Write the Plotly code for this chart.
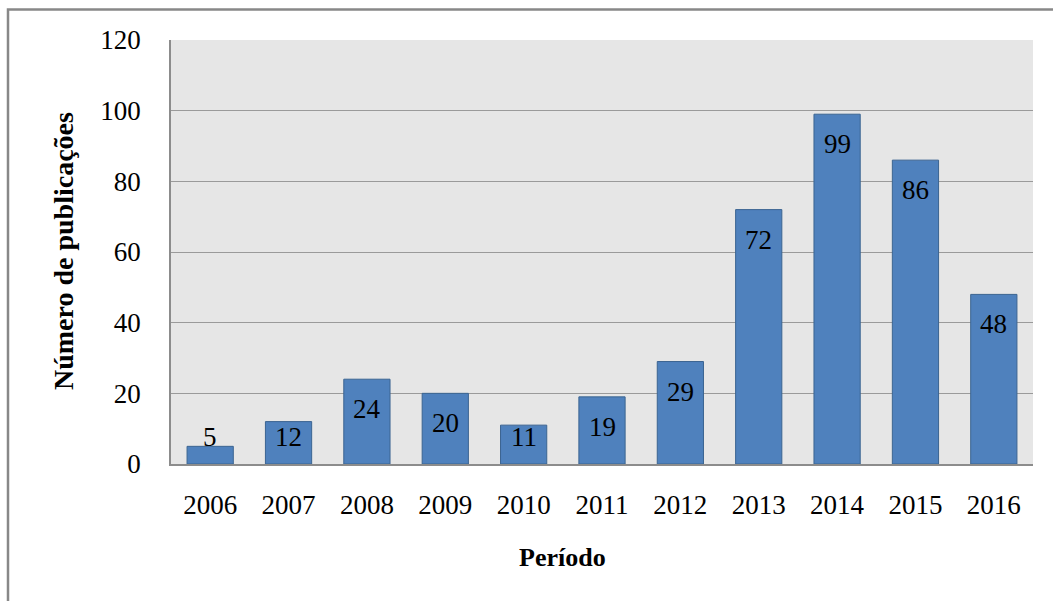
import plotly.graph_objects as go

# Publicações por ano
anos = ["2006", "2007", "2008", "2009", "2010", "2011", "2012", "2013", "2014", "2015", "2016"]
publicacoes = [5, 12, 24, 20, 11, 19, 29, 72, 99, 86, 48]
y_ticks = [0, 20, 40, 60, 80, 100, 120]
Y_MAX = 120

FONT = "Liberation Serif"
W, H = 1053, 601
ML, MR, MT, MB = 171, 20, 40, 137
PW, PH = W - ML - MR, H - MT - MB

fig = go.Figure(
    go.Bar(
        x=anos,
        y=publicacoes,
        marker=dict(color="#4f81bd", line=dict(color="#3b6491", width=1)),
        width=0.59,
        hoverinfo="x+y",
    )
)

# Rótulos de valor perto do topo da barra; em barras curtas o rótulo
# fica preso acima da linha de base (num eixo de categorias as anotações
# usam o índice da categoria)
annotations = []
for i, v in enumerate(publicacoes):
    bar_px = v / Y_MAX * PH
    offset = min(30, bar_px - 27)
    annotations.append(
        dict(
            x=i, y=v, xref="x", yref="y",
            text=str(v), showarrow=False,
            yanchor="middle", yshift=-offset,
            font=dict(family=FONT, size=27, color="#000000"),
        )
    )

# Títulos dos eixos
annotations.append(dict(
    text="<b>Número de publicações</b>", textangle=-90,
    xref="paper", yref="paper",
    x=(63 - ML) / PW, y=(H - MB - 251) / PH,
    showarrow=False, xanchor="center", yanchor="middle",
    font=dict(family=FONT, size=28, color="#000000"),
))
annotations.append(dict(
    text="<b>Período</b>",
    xref="paper", yref="paper",
    x=(562 - ML) / PW, y=(H - MB - 557) / PH,
    showarrow=False, xanchor="center", yanchor="middle",
    font=dict(family=FONT, size=26, color="#000000"),
))

# Moldura externa do gráfico
shapes = [dict(
    type="rect", xref="paper", yref="paper",
    x0=(8 - ML) / PW, x1=(1100 - ML) / PW,
    y0=(H - MB - 700) / PH, y1=(H - MB - 9.5) / PH,
    line=dict(color="#888888", width=2.5), fillcolor="rgba(0,0,0,0)",
    layer="below",
)]

fig.update_layout(
    width=W, height=H,
    margin=dict(l=ML, r=MR, t=MT, b=MB),
    paper_bgcolor="#ffffff",
    plot_bgcolor="#e6e6e6",
    showlegend=False,
    font=dict(family=FONT, size=27, color="#000000"),
    annotations=annotations,
    shapes=shapes,
    bargap=0.41,
)
fig.update_xaxes(
    type="category",
    range=[-0.5, len(anos) - 0.5],
    showgrid=False,
    showline=True, linecolor="#8c8c8c", linewidth=1.5,
    ticks="", ticklabelstandoff=16,
    tickfont=dict(family=FONT, size=27),
)
fig.update_yaxes(
    range=[0, Y_MAX],
    tickvals=y_ticks,
    showgrid=True, gridcolor="#9a9a9a", gridwidth=1.2,
    zeroline=False,
    showline=True, linecolor="#8c8c8c", linewidth=1.5,
    ticks="", ticklabelstandoff=23,
    tickfont=dict(family=FONT, size=27),
)

fig.write_html("out.html")
